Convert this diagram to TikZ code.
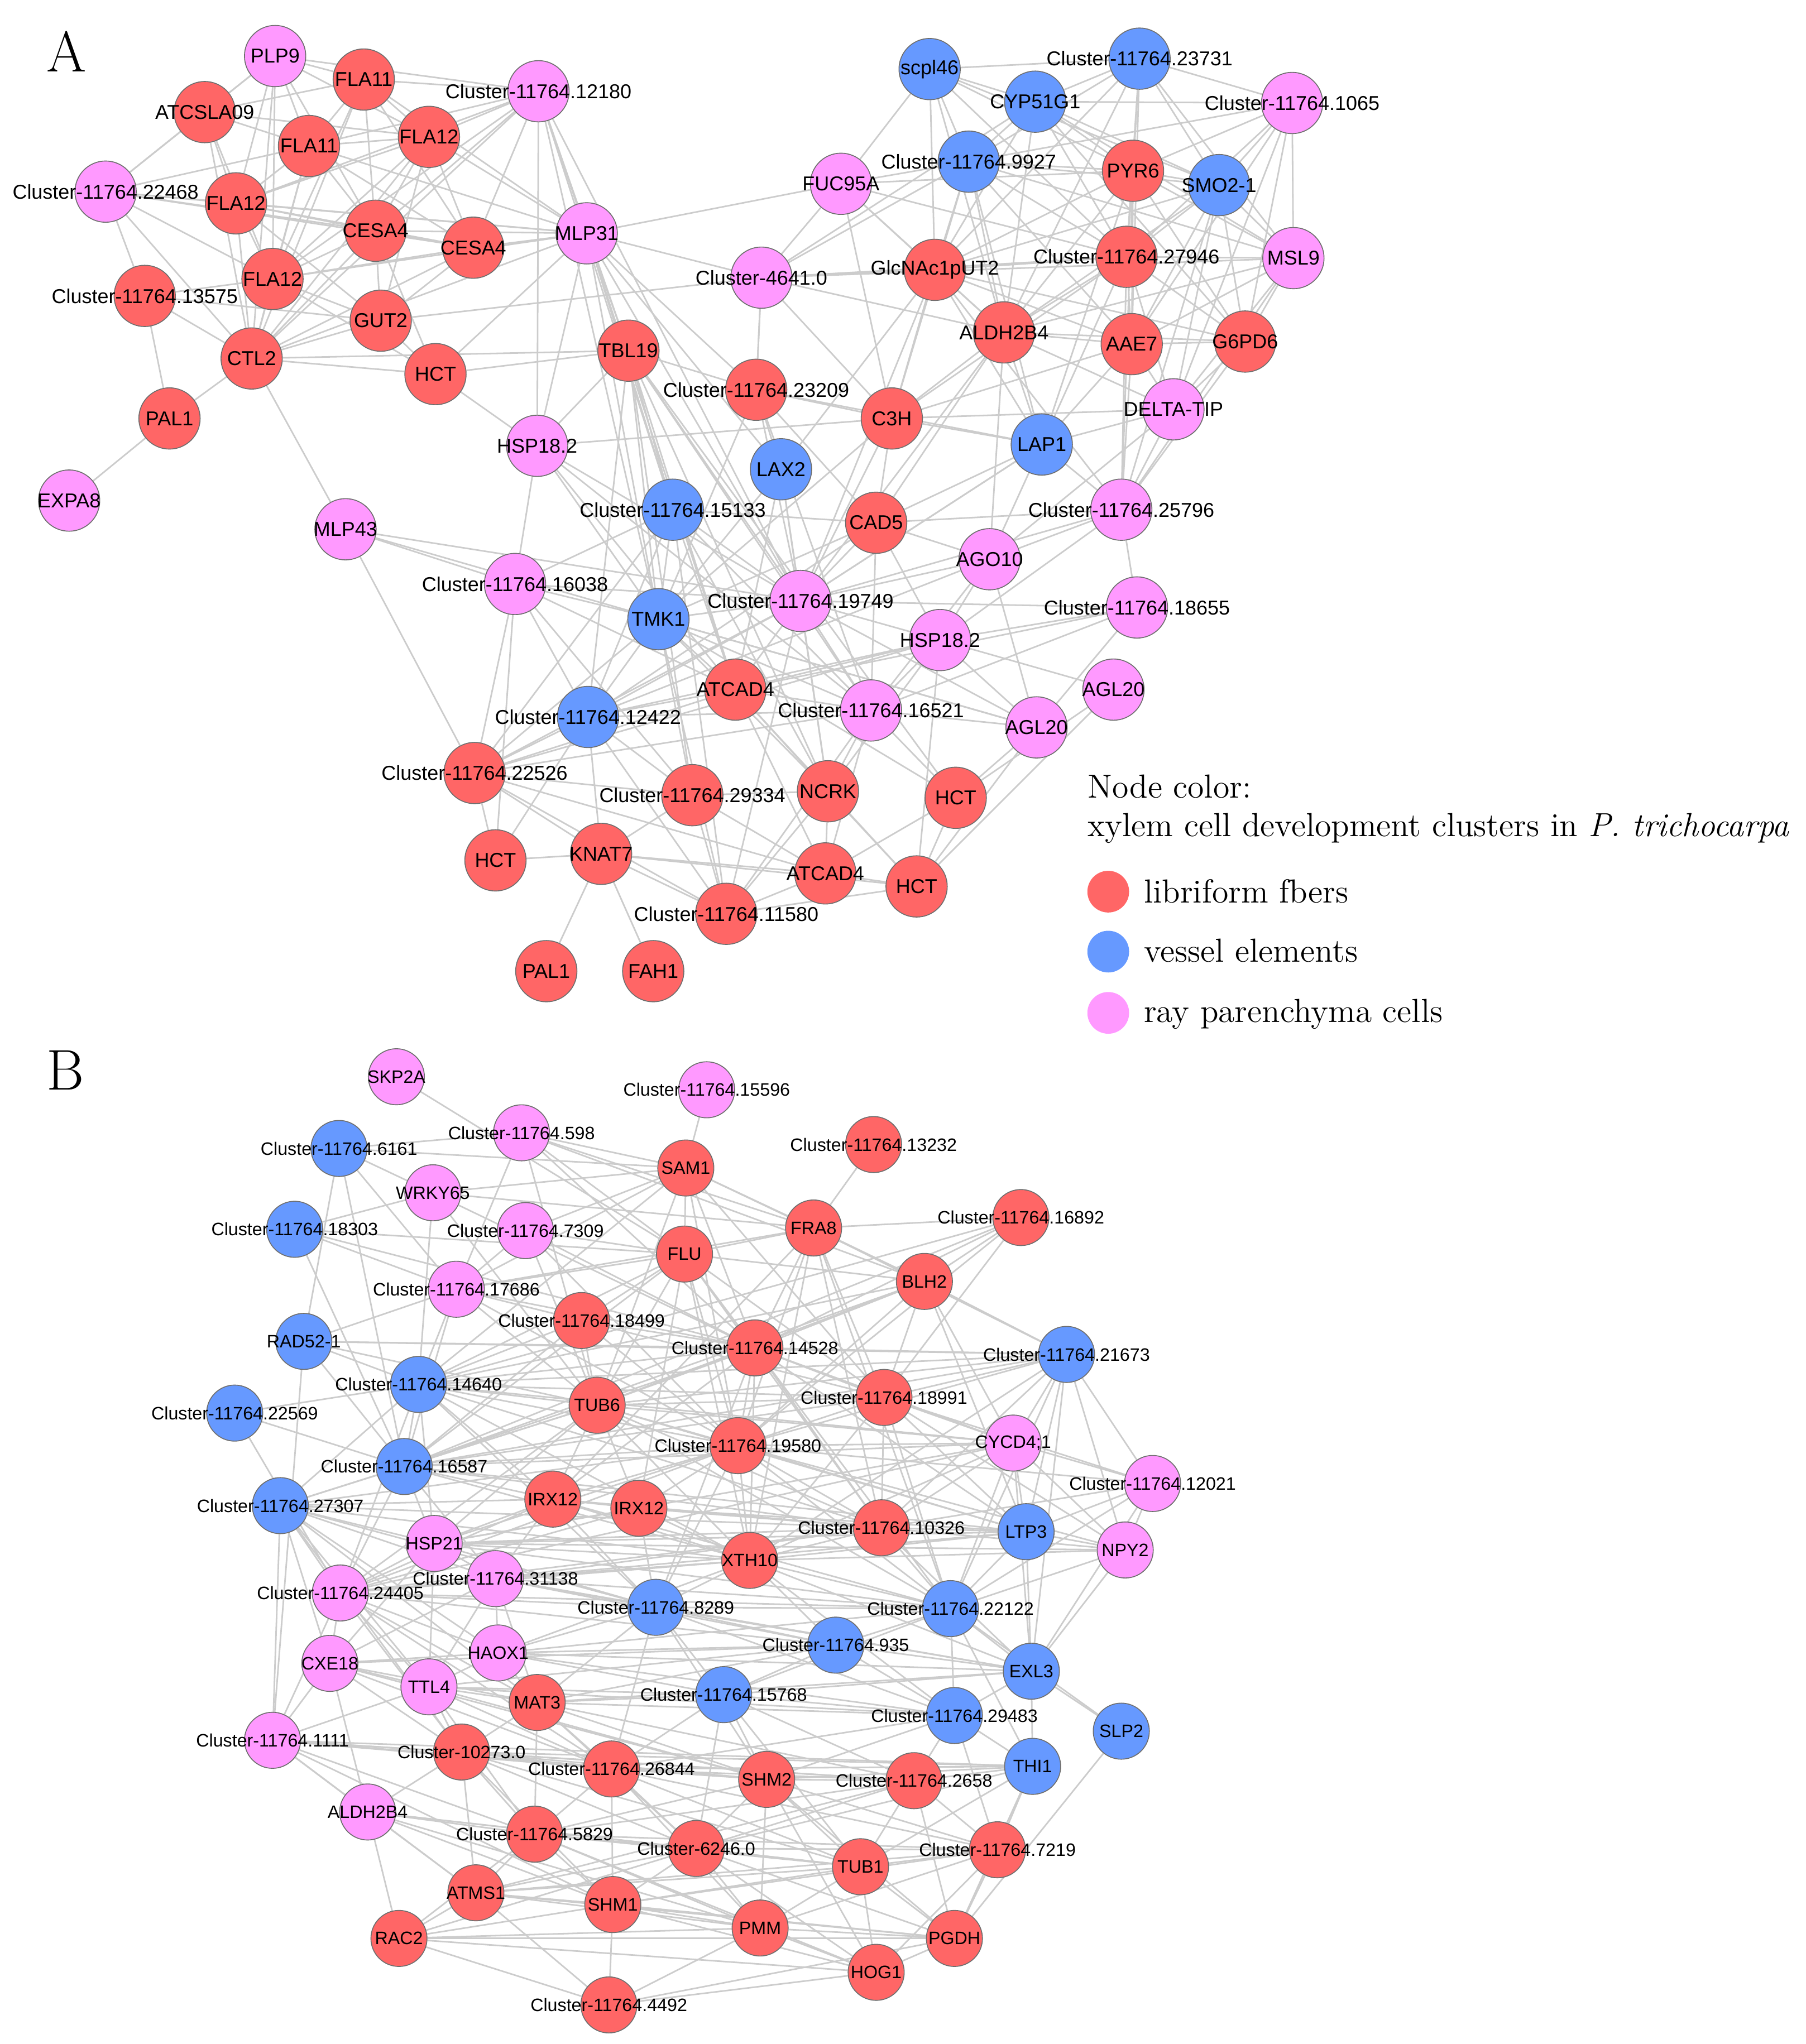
\documentclass[tikz,border=0pt]{standalone}
\usepackage{fontspec}
\newfontfamily\labfont{Liberation Sans}
\usetikzlibrary{backgrounds}
\definecolor{fr}{RGB}{255,102,102}
\definecolor{fb}{RGB}{102,153,255}
\definecolor{fp}{RGB}{255,153,255}
\definecolor{eg}{RGB}{204,204,204}
\definecolor{bd}{RGB}{110,110,110}
\begin{document}
\begin{tikzpicture}[x=0.5pt,y=-0.5pt,
 ndA/.style={circle,draw=bd,line width=0.35pt,minimum size=23.5pt,inner sep=0pt},
 ndB/.style={circle,draw=bd,line width=0.35pt,minimum size=21.5pt,inner sep=0pt},
 lA/.style={font=\labfont\fontsize{7.7}{8}\selectfont,inner sep=0pt},
 lB/.style={font=\labfont\fontsize{6.9}{7}\selectfont,inner sep=0pt},
 conn/.style={draw=eg,line width=0.6pt},
 panel/.style={font=\fontsize{22}{22}\selectfont,anchor=base,inner sep=0pt},
 legt/.style={font=\fontsize{12.8}{15}\selectfont,anchor=base west,inner sep=0pt},
 legc/.style={circle,minimum size=16pt,inner sep=0pt}]
\path[use as bounding box] (0,0) rectangle (1385,1568);

% ---------------- Panel A nodes ----------------
\foreach \n/\x/\y/\c/\t in {
a1/211/43/fp/PLP9, a2/279/61/fr/FLA11, a3/157/86/fr/ATCSLA09, a4/413/70/fp/Cluster-11764.12180,
a5/237/112/fr/FLA11, a6/329/105/fr/FLA12, a7/81/147/fp/Cluster-11764.22468, a8/181/156/fr/FLA12,
a9/288/177/fr/CESA4, a10/363/190/fr/CESA4, a11/450/179/fp/MLP31, a12/209/214/fr/FLA12,
a13/111/227/fr/Cluster-11764.13575, a14/292/246/fr/GUT2, a15/193/275/fr/CTL2, a16/334/287/fr/HCT,
a17/130/321/fr/PAL1, a18/53/384/fp/EXPA8, a19/412/342/fp/HSP18.2, a20/265/406/fp/MLP43,
a21/482/269/fr/TBL19, a22/580/299/fr/Cluster-11764.23209, a23/684/321/fr/C3H, a24/599/360/fb/LAX2,
a25/799/341/fb/LAP1, a26/516/391/fb/Cluster-11764.15133, a27/672/401/fr/CAD5, a28/759/429/fp/AGO10,
a29/860/391/fp/Cluster-11764.25796, a30/395/448/fp/Cluster-11764.16038, a31/505/475/fb/TMK1,
a32/614/461/fp/Cluster-11764.19749, a33/721/491/fp/HSP18.2, a34/872/466/fp/Cluster-11764.18655,
a35/564/529/fr/ATCAD4, a36/451/550/fb/Cluster-11764.12422, a37/668/545/fp/Cluster-11764.16521,
a38/854/529/fp/AGL20, a39/795/558/fp/AGL20, a40/364/593/fr/Cluster-11764.22526,
a41/531/610/fr/Cluster-11764.29334, a42/635/607/fr/NCRK, a43/733/612/fr/HCT, a44/380/660/fr/HCT,
a45/461/655/fr/KNAT7, a46/633/670/fr/ATCAD4, a47/703/680/fr/HCT, a48/557/701/fr/Cluster-11764.11580,
a49/419/745/fr/PAL1, a50/501/745/fr/FAH1, a51/713/53/fb/scpl46, a52/874/45/fb/Cluster-11764.23731,
a53/794/78/fb/CYP51G1, a54/991/79/fp/Cluster-11764.1065, a55/743/124/fb/Cluster-11764.9927,
a56/645/141/fp/FUC95A, a57/869/131/fr/PYR6, a58/935/142/fb/SMO2-1, a59/584/213/fp/Cluster-4641.0,
a60/717/207/fr/GlcNAc1pUT2, a61/864/197/fr/Cluster-11764.27946, a62/992/198/fp/MSL9,
a63/770/255/fr/ALDH2B4, a64/868/264/fr/AAE7, a65/955/262/fr/G6PD6, a66/900/314/fp/DELTA-TIP}
{\node[ndA,fill=\c,label={[lA]center:\t}] (\n) at (\x,\y) {};}

% ---------------- Panel B nodes ----------------
\foreach \n/\x/\y/\c/\t in {
b1/304/826/fp/SKP2A, b2/542/836/fp/Cluster-11764.15596, b3/400/869/fp/Cluster-11764.598,
b4/260/881/fb/Cluster-11764.6161, b5/526/896/fr/SAM1, b6/670/878/fr/Cluster-11764.13232,
b7/332/915/fp/WRKY65, b8/226/943/fb/Cluster-11764.18303, b9/403/944/fp/Cluster-11764.7309,
b10/624/942/fr/FRA8, b11/783/934/fr/Cluster-11764.16892, b12/525/962/fr/FLU, b13/709/983/fr/BLH2,
b14/350/989/fp/Cluster-11764.17686, b15/446/1013/fr/Cluster-11764.18499, b16/233/1029/fb/RAD52-1,
b17/579/1034/fr/Cluster-11764.14528, b18/818/1039/fb/Cluster-11764.21673, b19/321/1062/fb/Cluster-11764.14640,
b20/678/1072/fr/Cluster-11764.18991, b21/458/1078/fr/TUB6, b22/180/1084/fb/Cluster-11764.22569,
b23/310/1125/fb/Cluster-11764.16587, b24/566/1109/fr/Cluster-11764.19580, b25/777/1107/fp/{CYCD4;1},
b26/884/1138/fp/Cluster-11764.12021, b27/215/1155/fb/Cluster-11764.27307, b28/424/1150/fr/IRX12,
b29/490/1157/fr/IRX12, b30/676/1172/fr/Cluster-11764.10326, b31/787/1175/fb/LTP3, b32/863/1189/fp/NPY2,
b33/333/1184/fp/HSP21, b34/575/1197/fr/XTH10, b35/261/1222/fp/Cluster-11764.24405,
b36/380/1211/fp/Cluster-11764.31138, b37/503/1233/fb/Cluster-11764.8289, b38/729/1234/fb/Cluster-11764.22122,
b39/641/1262/fb/Cluster-11764.935, b40/791/1282/fb/EXL3, b41/382/1268/fp/HAOX1, b42/253/1276/fp/CXE18,
b43/329/1294/fp/TTL4, b44/412/1306/fr/MAT3, b45/555/1300/fb/Cluster-11764.15768,
b46/732/1316/fb/Cluster-11764.29483, b47/860/1328/fb/SLP2, b48/209/1335/fp/Cluster-11764.1111,
b49/354/1344/fr/Cluster-10273.0, b50/469/1357/fr/Cluster-11764.26844, b51/588/1365/fr/SHM2,
b52/701/1366/fr/Cluster-11764.2658, b53/792/1355/fb/THI1, b54/282/1390/fp/ALDH2B4,
b55/410/1407/fr/Cluster-11764.5829, b56/534/1418/fr/Cluster-6246.0, b57/660/1432/fr/TUB1,
b58/765/1419/fr/Cluster-11764.7219, b59/365/1452/fr/ATMS1, b60/470/1461/fr/SHM1, b61/583/1479/fr/PMM,
b62/306/1487/fr/RAC2, b63/732/1487/fr/PGDH, b64/672/1513/fr/HOG1, b65/467/1538/fr/Cluster-11764.4492}
{\node[ndB,fill=\c,label={[lB]center:\t}] (\n) at (\x,\y) {};}

% ---------------- panel letters and legend ----------------
\node[panel] (pA) at (51,55) {A};
\node[panel] (pB) at (50,836) {B};
\node[legt] (lg0) at (834,612) {Node color:};
\node[legt] (lg00) at (834,641.5) {xylem cell development clusters in \textit{P. trichocarpa}};
\node[legc,fill=fr] (lg1) at (850,684) {};
\node[legc,fill=fb] (lg2) at (850,730) {};
\node[legc,fill=fp] (lg3) at (850,777) {};
\node[legt] (lt1) at (877,692.5) {libriform fbers};
\node[legt] (lt2) at (877,738) {vessel elements};
\node[legt] (lt3) at (877,784) {ray parenchyma cells};

% ---------------- edges ----------------
\begin{pgfonlayer}{background}
\fill[white] (0,0) rectangle (1385,1568);
\foreach \u/\v in {
a18/a17, a17/a13, a17/a15,
a7/a3, a7/a1, a7/a5, a7/a8, a7/a13, a7/a15, a7/a9, a7/a10, a7/a11, a7/a12,
a1/a2, a1/a3, a1/a5, a1/a8, a1/a12, a1/a15, a1/a9, a1/a4, a1/a6,
a2/a4, a2/a6, a2/a5, a2/a9, a2/a12, a2/a15, a2/a11, a2/a3, a2/a10,
a3/a8, a3/a6, a3/a15, a3/a12, a3/a5,
a5/a6, a5/a9, a5/a12, a5/a15, a5/a4, a5/a11, a5/a8, a5/a10,
a6/a4, a6/a9, a6/a10, a6/a12, a6/a15, a6/a11, a6/a8, a6/a14,
a4/a11, a4/a10, a4/a12, a4/a21, a4/a19, a4/a26, a4/a32, a4/a31, a4/a9, a4/a8, a4/a15,
a8/a9, a8/a10, a8/a12, a8/a15, a8/a11, a8/a14,
a9/a10, a9/a11, a9/a15, a9/a12, a9/a16, a9/a14,
a10/a11, a10/a12, a10/a15, a10/a14,
a11/a12, a11/a16, a11/a15, a11/a21, a11/a19, a11/a26, a11/a32, a11/a31, a11/a59, a11/a56, a11/a22, a11/a24, a11/a35,
a12/a15, a12/a14, a12/a16, a12/a13,
a13/a15, a13/a14,
a14/a15, a14/a16, a14/a59,
a15/a16, a15/a20, a15/a21,
a16/a19, a16/a21,
a19/a30, a19/a31, a19/a32, a19/a21, a19/a37, a19/a35, a19/a23,
a20/a30, a20/a31, a20/a40, a20/a32,
a30/a40, a30/a36, a30/a31, a30/a32, a30/a35, a30/a26, a30/a41, a30/a44,
a26/a31, a26/a32, a26/a36, a26/a35, a26/a40, a26/a27, a26/a37, a26/a42, a26/a21, a26/a48,
a24/a32, a24/a31, a24/a35, a24/a22, a24/a42, a24/a60,
a21/a31, a21/a36, a21/a32, a21/a26, a21/a35, a21/a22, a21/a42, a21/a37, a21/a43, a21/a41,
a22/a23, a22/a25, a22/a32, a22/a27, a22/a31, a22/a59, a22/a37,
a23/a25, a23/a63, a23/a60, a23/a27, a23/a32, a23/a31, a23/a64, a23/a66, a23/a56, a23/a61, a23/a55,
a27/a28, a27/a32, a27/a37, a27/a31, a27/a25, a27/a33, a27/a36, a27/a29, a27/a63,
a28/a29, a28/a32, a28/a33, a28/a37, a28/a25, a28/a36, a28/a63, a28/a66,
a29/a66, a29/a25, a29/a61, a29/a64, a29/a34, a29/a33, a29/a65, a29/a32, a29/a57, a29/a60, a29/a62, a29/a58,
a32/a31, a32/a35, a32/a37, a32/a33, a32/a36, a32/a42, a32/a40, a32/a39, a32/a34, a32/a48, a32/a25,
a31/a36, a31/a35, a31/a37, a31/a40, a31/a41, a31/a42, a31/a48, a31/a43, a31/a39,
a33/a37, a33/a39, a33/a34, a33/a42, a33/a35, a33/a47, a33/a36, a33/a40,
a34/a39, a34/a37, a34/a35,
a38/a47, a38/a43, a38/a33,
a39/a43, a39/a47, a39/a37, a39/a31, a39/a28,
a35/a36, a35/a37, a35/a40, a35/a42, a35/a46, a35/a47,
a36/a40, a36/a45, a36/a37, a36/a41, a36/a44, a36/a48,
a37/a42, a37/a46, a37/a43, a37/a40, a37/a48,
a40/a44, a40/a45, a40/a46, a40/a41, a40/a48,
a41/a45, a41/a42, a41/a48, a41/a46,
a42/a46, a42/a48, a42/a47,
a43/a47, a43/a46,
a44/a45,
a45/a46, a45/a48, a45/a49, a45/a50, a45/a47,
a46/a48, a46/a47, a48/a47,
a51/a52, a51/a53, a51/a55, a51/a56, a51/a57, a51/a60, a51/a61, a51/a58, a51/a63,
a52/a53, a52/a55, a52/a57, a52/a58, a52/a54, a52/a61, a52/a62, a52/a60, a52/a63, a52/a64,
a53/a54, a53/a55, a53/a57, a53/a58, a53/a61, a53/a60, a53/a62, a53/a63, a53/a65, a53/a59,
a54/a58, a54/a62, a54/a57, a54/a55, a54/a61, a54/a65, a54/a64, a54/a66,
a55/a56, a55/a57, a55/a58, a55/a60, a55/a61, a55/a63, a55/a59, a55/a64, a55/a25, a55/a62,
a56/a60, a56/a59, a56/a57, a56/a61, a56/a63,
a57/a58, a57/a61, a57/a60, a57/a63, a57/a64, a57/a62, a57/a65, a57/a25,
a58/a62, a58/a61, a58/a64, a58/a65, a58/a63, a58/a60, a58/a66,
a59/a60, a59/a61, a59/a62, a59/a63, a59/a22, a59/a23,
a60/a61, a60/a63, a60/a64, a60/a25, a60/a65, a60/a32,
a61/a62, a61/a64, a61/a65, a61/a63, a61/a66, a61/a25,
a62/a65, a62/a64, a62/a66, a62/a63,
a63/a64, a63/a65, a63/a25, a63/a66, a63/a32,
a64/a65, a64/a66, a64/a25,
a65/a66, a66/a25, a25/a32}
{\draw[conn] (\u) -- (\v);}
\foreach \u/\v in {
b1/b12, b2/b5, b6/b10,
b3/b5, b3/b4, b3/b12, b3/b10, b3/b14, b3/b17, b3/b21, b3/b13,
b4/b5, b4/b7, b4/b16, b4/b14, b4/b23,
b7/b8, b7/b10, b7/b5, b7/b17, b7/b21, b7/b19,
b8/b12, b8/b14, b8/b17, b8/b23,
b9/b12, b9/b5, b9/b14, b9/b17, b9/b21, b9/b24,
b5/b10, b5/b12, b5/b14, b5/b13, b5/b17, b5/b20, b5/b21, b5/b24, b5/b19,
b10/b11, b10/b12, b10/b13, b10/b17, b10/b20, b10/b14, b10/b24, b10/b30, b10/b18, b10/b38, b10/b34, b10/b28,
b11/b13, b11/b17, b11/b20, b11/b24, b11/b23, b11/b19,
b12/b14, b12/b17, b12/b13, b12/b24, b12/b15, b12/b21, b12/b20, b12/b19, b12/b23, b12/b29, b12/b34, b12/b30,
b13/b17, b13/b18, b13/b20, b13/b25, b13/b24, b13/b31, b13/b19, b13/b23, b13/b21,
b14/b15, b14/b16, b14/b17, b14/b21, b14/b24, b14/b19, b14/b23,
b15/b17, b15/b21, b15/b20, b15/b24, b15/b19, b15/b23,
b16/b19, b16/b17, b16/b18, b16/b23, b16/b21, b16/b48,
b17/b18, b17/b20, b17/b21, b17/b24, b17/b25, b17/b19, b17/b23, b17/b28, b17/b34, b17/b30, b17/b31, b17/b38, b17/b37,
b18/b20, b18/b25, b18/b26, b18/b31, b18/b32, b18/b24, b18/b30, b18/b38, b18/b23, b18/b19, b18/b40, b18/b34, b18/b21,
b19/b21, b19/b24, b19/b23, b19/b20, b19/b28, b19/b34, b19/b30, b19/b35, b19/b27, b19/b37, b19/b33, b19/b25, b19/b22,
b22/b23, b22/b35,
b20/b21, b20/b24, b20/b25, b20/b31, b20/b30, b20/b34, b20/b23, b20/b38, b20/b32, b20/b26,
b21/b23, b21/b24, b21/b28, b21/b29, b21/b34, b21/b30, b21/b25, b21/b31, b21/b35, b21/b33, b21/b27, b21/b38,
b23/b24, b23/b28, b23/b27, b23/b33, b23/b35, b23/b34, b23/b30, b23/b25, b23/b31, b23/b36,
b24/b25, b24/b26, b24/b28, b24/b29, b24/b34, b24/b30, b24/b31, b24/b32, b24/b35, b24/b33, b24/b27, b24/b37, b24/b38,
b25/b26, b25/b31, b25/b32, b25/b30, b25/b38, b25/b34, b25/b40, b25/b33, b25/b35,
b26/b32, b26/b31, b26/b40, b26/b38, b26/b30,
b27/b33, b27/b35, b27/b36, b27/b42, b27/b43, b27/b41, b27/b28, b27/b34, b27/b37, b27/b44, b27/b48, b27/b49, b27/b30,
b28/b29, b28/b33, b28/b34, b28/b36, b28/b35, b28/b37, b28/b30, b28/b38,
b29/b34, b29/b33, b29/b30, b29/b31, b29/b37, b29/b35,
b30/b31, b30/b34, b30/b32, b30/b38, b30/b33, b30/b35, b30/b36, b30/b40,
b31/b32, b31/b38, b31/b40, b31/b34, b31/b33, b31/b36,
b32/b38, b32/b40, b32/b34, b32/b33,
b33/b34, b33/b35, b33/b36, b33/b37, b33/b38, b33/b42, b33/b43,
b34/b38, b34/b36, b34/b35, b34/b37, b34/b39, b34/b40, b34/b46, b34/b41,
b35/b36, b35/b42, b35/b43, b35/b41, b35/b37, b35/b38, b35/b48, b35/b44, b35/b49, b35/b50, b35/b39,
b36/b37, b36/b41, b36/b38, b36/b39, b36/b40, b36/b43, b36/b44, b36/b42,
b37/b38, b37/b39, b37/b45, b37/b41, b37/b44, b37/b40, b37/b46, b37/b51, b37/b50,
b38/b40, b38/b39, b38/b46, b38/b47, b38/b53, b38/b41, b38/b45,
b39/b40, b39/b45, b39/b46, b39/b41, b39/b43, b39/b44, b39/b42,
b40/b47, b40/b46, b40/b53, b40/b45, b40/b41, b40/b44,
b47/b63,
b41/b42, b41/b43, b41/b44, b41/b46, b41/b45,
b42/b43, b42/b48, b42/b49, b42/b44, b42/b50, b42/b54, b42/b51,
b43/b44, b43/b49, b43/b48, b43/b50, b43/b55, b43/b51, b43/b46, b43/b45,
b44/b45, b44/b49, b44/b50, b44/b51, b44/b55, b44/b46, b44/b56, b44/b52,
b45/b46, b45/b50, b45/b51, b45/b56, b45/b52, b45/b57,
b46/b53, b46/b52, b46/b51, b46/b58, b46/b50,
b48/b49, b48/b54, b48/b50, b48/b55, b48/b51, b48/b59, b48/b60, b48/b52, b48/b53,
b49/b50, b49/b54, b49/b55, b49/b51, b49/b59, b49/b56, b49/b52, b49/b53, b49/b57, b49/b60,
b50/b51, b50/b55, b50/b56, b50/b52, b50/b53, b50/b57, b50/b60, b50/b58, b50/b61,
b51/b52, b51/b56, b51/b57, b51/b53, b51/b58, b51/b55, b51/b61, b51/b63, b51/b64,
b52/b53, b52/b58, b52/b57, b52/b56, b52/b63, b52/b55, b52/b59,
b53/b58, b53/b63, b53/b57, b53/b56,
b54/b62, b54/b55, b54/b59, b54/b56, b54/b60, b54/b57, b54/b61,
b55/b56, b55/b59, b55/b60, b55/b57, b55/b61, b55/b58, b55/b62, b55/b64,
b56/b57, b56/b60, b56/b61, b56/b58, b56/b59, b56/b64, b56/b63, b56/b62,
b57/b58, b57/b63, b57/b64, b57/b61, b57/b60, b57/b59,
b58/b63, b58/b64, b58/b61, b58/b59, b58/b60,
b59/b60, b59/b62, b59/b61, b59/b65, b59/b63,
b60/b61, b60/b65, b60/b64, b60/b63, b60/b62,
b61/b64, b61/b63, b61/b65, b61/b62,
b62/b65, b62/b63, b62/b64,
b64/b63, b64/b65, b63/b65}
{\draw[conn] (\u) -- (\v);}
\end{pgfonlayer}
\end{tikzpicture}
\end{document}
